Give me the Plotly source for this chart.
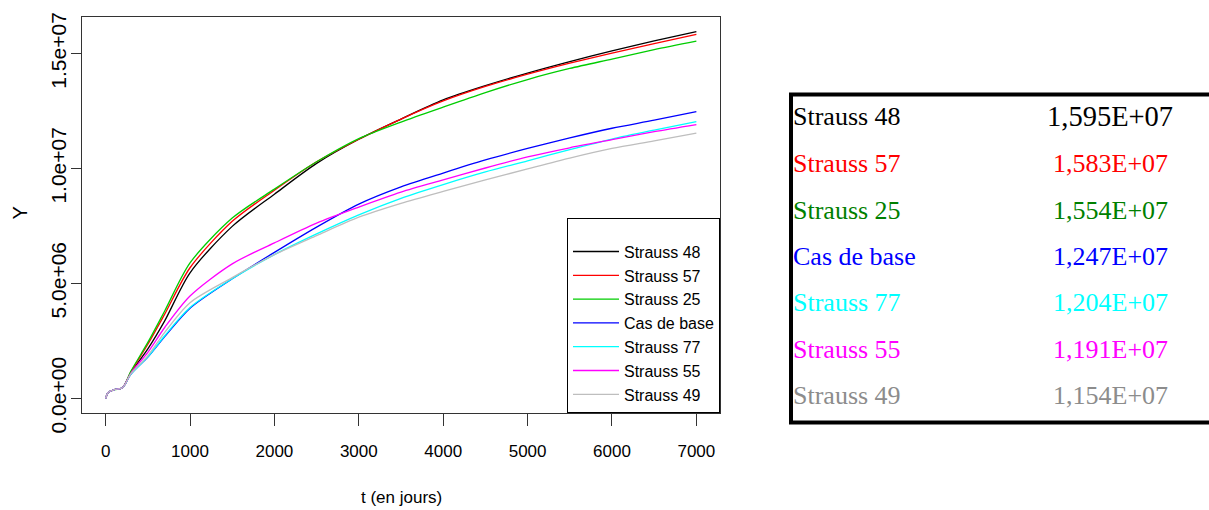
import plotly.graph_objects as go

t_days = [0, 30, 100, 200, 300, 500, 700, 1000, 1500, 2000, 2500, 3000,
          3500, 4000, 4500, 5000, 5500, 6000, 6500, 7000]

# cumulative Y, in millions
strauss_48 = [0, 0.25, 0.37, 0.46, 1.12, 2.15, 3.37, 5.46, 7.48, 8.88, 10.22, 11.27,
              12.15, 12.98, 13.60, 14.15, 14.65, 15.12, 15.55, 15.95]
strauss_57 = [0, 0.25, 0.37, 0.46, 1.15, 2.35, 3.66, 5.68, 7.70, 9.05, 10.29, 11.27,
              12.15, 12.94, 13.57, 14.10, 14.58, 15.02, 15.43, 15.83]
strauss_25 = [0, 0.25, 0.37, 0.46, 1.18, 2.43, 3.80, 5.89, 7.84, 9.10, 10.29, 11.30,
              12.02, 12.67, 13.30, 13.87, 14.35, 14.76, 15.17, 15.54]
cas_de_base = [0, 0.25, 0.37, 0.46, 1.05, 1.79, 2.68, 3.92, 5.20, 6.35, 7.45, 8.45,
               9.20, 9.80, 10.37, 10.87, 11.33, 11.75, 12.10, 12.47]
strauss_77 = [0, 0.25, 0.37, 0.46, 1.05, 1.80, 2.72, 3.95, 5.20, 6.25, 7.15, 7.98,
              8.70, 9.30, 9.85, 10.33, 10.82, 11.28, 11.67, 12.04]
strauss_55 = [0, 0.25, 0.37, 0.46, 1.10, 2.00, 3.08, 4.45, 5.85, 6.76, 7.62, 8.32,
              8.97, 9.50, 10.02, 10.50, 10.90, 11.25, 11.60, 11.91]
strauss_49 = [0, 0.25, 0.37, 0.46, 1.07, 1.85, 2.87, 4.16, 5.25, 6.25, 7.08, 7.88,
              8.48, 9.00, 9.50, 9.98, 10.45, 10.87, 11.20, 11.54]

series_names = ["Strauss 48", "Strauss 57", "Strauss 25", "Cas de base",
                "Strauss 77", "Strauss 55", "Strauss 49"]
series_values = [strauss_48, strauss_57, strauss_25, cas_de_base,
                 strauss_77, strauss_55, strauss_49]
line_colors = ["black", "red", "#00CD00", "blue", "cyan", "magenta", "#BEBEBE"]

# right-hand table
table_values = ["1,595E+07", "1,583E+07", "1,554E+07", "1,247E+07",
                "1,204E+07", "1,191E+07", "1,154E+07"]
table_colors = ["black", "red", "#008000", "blue", "cyan", "magenta", "#8C8C8C"]

y_tickvals = [0, 5e6, 1e7, 1.5e7]
y_ticktext = ["0.0e+00", "5.0e+06", "1.0e+07", "1.5e+07"]
x_tickvals = [0, 1000, 2000, 3000, 4000, 5000, 6000, 7000]

# page body margin is removed below, so figure pixels = page pixels
W, H = 1209, 510
L, R, T, B = 82, 720, 14, 413   # plot box in pixels

def px_x(p):
    # pixel -> paper fraction
    return (p - L) / (R - L)

def px_y(p):
    return (B - p) / (B - T)

fig = go.Figure()
for name, vals, col in zip(series_names, series_values, line_colors):
    fig.add_trace(go.Scatter(x=t_days, y=[v * 1e6 for v in vals], mode="lines",
                             name=name,
                             line=dict(color=col, width=1.3, shape="spline", smoothing=0.8)))

sans = "Liberation Sans, Arial, sans-serif"
serif = "Liberation Serif, Times New Roman, serif"

fig.update_layout(
    width=W, height=H,
    margin=dict(l=L, r=W - R, t=T, b=H - B),
    paper_bgcolor="white", plot_bgcolor="white",
    showlegend=True,
    legend=dict(x=1, xanchor="right", y=0, yanchor="bottom",
                bordercolor="black", borderwidth=1, bgcolor="white",
                itemwidth=46,
                title=dict(text=" ", font=dict(size=12)),
                font=dict(family=sans, size=16, color="black")),
    xaxis=dict(range=[-280, 7280], tickvals=x_tickvals, showgrid=False, zeroline=False,
               showline=True, mirror=True, linecolor="#333", linewidth=1.3,
               ticks="outside", ticklen=12, tickcolor="#333", tickwidth=1.2,
               ticklabelstandoff=10,
               tickfont=dict(family=sans, size=17, color="black")),
    yaxis=dict(range=[-0.64e6, 16.59e6], tickvals=y_tickvals, ticktext=y_ticktext,
               showgrid=False, zeroline=False,
               showline=True, mirror=True, linecolor="#333", linewidth=1.3,
               ticks="outside", ticklen=10, tickcolor="#333", tickwidth=1.2,
               tickangle=-90, ticklabelstandoff=-4,
               tickfont=dict(family=sans, size=21, color="black")),
)

# axis titles
fig.add_annotation(x=px_x(401), y=px_y(498), xref="paper", yref="paper",
                   text="t (en jours)", showarrow=False,
                   xanchor="center", yanchor="middle",
                   font=dict(family=sans, size=17, color="black"))
fig.add_annotation(x=px_x(20), y=px_y(212), xref="paper", yref="paper",
                   text="Y", showarrow=False, textangle=-90,
                   xanchor="center", yanchor="middle",
                   font=dict(family=sans, size=20, color="black"))

# table frame: open on the right, it runs off the picture
xl, xr = px_x(791), px_x(1230)
yt, yb = px_y(92), px_y(422.5)
fig.add_shape(type="path", xref="paper", yref="paper",
              path=f"M {xr},{yt} L {xl},{yt} L {xl},{yb} L {xr},{yb}",
              line=dict(color="black", width=4))

row_y = [114.5, 161.5, 208.5, 255, 302, 349, 395]
for i, (name, val, col) in enumerate(zip(series_names, table_values, table_colors)):
    fig.add_annotation(x=px_x(791), y=px_y(row_y[i]), xref="paper", yref="paper",
                       text=name, showarrow=False, xanchor="left", yanchor="middle",
                       font=dict(family=serif, size=26, color=col))
    fig.add_annotation(x=px_x(1110), y=px_y(row_y[i]), xref="paper", yref="paper",
                       text=val, showarrow=False, xanchor="center", yanchor="middle",
                       font=dict(family=serif, size=28.5 if i == 0 else 26, color=col))

fig.write_html("out.html", config={"displayModeBar": False},
               post_script="document.body.style.margin='0';"
                           "document.body.style.overflow='hidden';")
